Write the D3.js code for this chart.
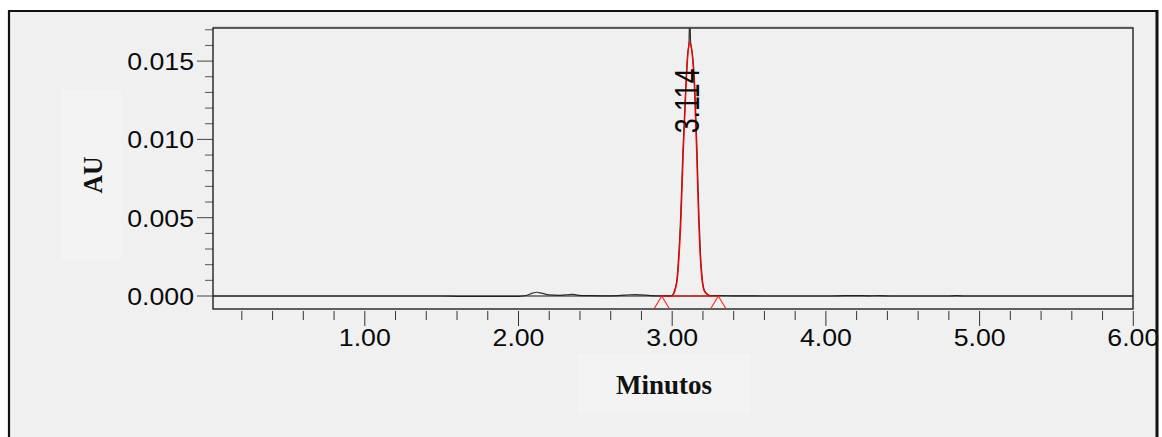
<!DOCTYPE html>
<html>
<head>
<meta charset="utf-8">
<script src="https://cdn.jsdelivr.net/npm/d3@7"></script>
<style>
  html, body { margin: 0; padding: 0; background: #ffffff; }
  svg { display: block; }
</style>
</head>
<body>
<svg id="chart" width="1162" height="437"></svg>
<script>
// ---------- data ----------
const signalTime = [0.01, 0.5, 1.0, 1.5, 1.6, 1.8, 2.0, 2.05, 2.09, 2.12, 2.15, 2.2, 2.27, 2.32, 2.35, 2.38, 2.45, 2.55, 2.65, 2.72, 2.76, 2.8, 2.86, 2.93,
  2.994, 3.009, 3.022, 3.030, 3.043, 3.054, 3.069, 3.088, 3.101, 3.109, 3.1145, 3.120, 3.131, 3.147, 3.162, 3.175, 3.184, 3.197, 3.208, 3.223, 3.249,
  3.3, 3.4, 3.6, 4.0, 4.12, 4.2, 4.28, 4.35, 4.42, 4.8, 4.85, 4.9, 5.5, 6.0];
const signalAU = [0, 0, 0, 0, -0.00002, -0.00003, -0.00002, 0.00003, 0.00018, 0.00024, 0.00018, 0.00007, 0.00004, 0.00008, 0.00011, 0.00006, 0.00002, 0.00001, 0.00003, 0.00008, 0.00009, 0.00007, 0.00003, 0.00001,
  0.00001, 0.00017, 0.0006, 0.00102, 0.00273, 0.00485, 0.00913, 0.01337, 0.01552, 0.01615, 0.0180, 0.0161, 0.01552, 0.01337, 0.00913, 0.00485, 0.00273, 0.00102, 0.0004, 0.00017, 0.00002,
  0.00002, 0.00001, 0, 0, 0.00002, 0.00003, 0.00001, 0.00002, 0, 0, 0.00002, 0, 0, 0];

const peakTime = [2.997, 3.012, 3.025, 3.033, 3.046, 3.057, 3.072, 3.090, 3.103, 3.110, 3.116, 3.122, 3.129, 3.144, 3.159, 3.172, 3.181, 3.194, 3.205, 3.220, 3.246];
const peakAU   = [0, 0.00017, 0.0006, 0.00102, 0.00273, 0.00485, 0.00913, 0.01337, 0.01552, 0.01610, 0.01624, 0.01605, 0.01552, 0.01337, 0.00913, 0.00485, 0.00273, 0.00102, 0.0004, 0.00017, 0];

const peakRT = 3.114;
const peakLabel = "3.114";
const integrationMarks = [2.932, 3.300];

const xMajorTicks = [1, 2, 3, 4, 5, 6];
const xTickLabels = ["1.00", "2.00", "3.00", "4.00", "5.00", "6.00"];
const yMajorTicks = [0, 0.005, 0.010, 0.015];
const yTickLabels = ["0.000", "0.005", "0.010", "0.015"];

const xTitle = "Minutos";
const yTitle = "AU";

// ---------- layout ----------
const svg = d3.select("#chart");
const L = 213, R = 1133, T = 28, B = 309;
const x = d3.scaleLinear().domain([0, 6]).range([211.1, 1133.3]);
const y = d3.scaleLinear().domain([0, 0.015]).range([296, 61.1]);
const bg = "#f0f0f0";

// outer frame
svg.append("rect").attr("x", 9).attr("y", 11).attr("width", 1148).attr("height", 440)
  .attr("fill", bg).attr("stroke", "none");

// title boxes
svg.append("rect").attr("x", 62).attr("y", 90).attr("width", 59).attr("height", 170).attr("fill", "#f3f3f3");
svg.append("rect").attr("x", 578).attr("y", 354).attr("width", 172).attr("height", 59).attr("fill", "#f3f3f3");

// clip
svg.append("clipPath").attr("id", "plotclip").append("rect")
  .attr("x", L).attr("y", T).attr("width", R - L).attr("height", B - T);

// y ticks
const yMinor = d3.range(1, 18).map(d => d * 0.001).filter(v => !yMajorTicks.some(m => Math.abs(m - v) < 1e-9));
const gy = svg.append("g");
gy.selectAll("line.minor").data(yMinor).join("line")
  .attr("x1", L - 8).attr("x2", L).attr("y1", d => y(d)).attr("y2", d => y(d))
  .attr("stroke", "#555").attr("stroke-width", 1);
gy.selectAll("line.major").data(yMajorTicks).join("line")
  .attr("x1", L - 16).attr("x2", L).attr("y1", d => y(d)).attr("y2", d => y(d))
  .attr("stroke", "#444").attr("stroke-width", 1);
gy.selectAll("text").data(yMajorTicks).join("text")
  .attr("transform", d => `translate(194,${y(d) + 8.8}) scale(1.16,1)`)
  .attr("text-anchor", "end")
  .attr("font-family", "'Liberation Sans', Arial, sans-serif")
  .attr("font-size", 23).attr("fill", "#0a0a0a")
  .text((d, i) => yTickLabels[i]);

// x ticks
const xMinor = d3.range(1, 30).map(d => d * 0.2).filter(v => !xMajorTicks.some(m => Math.abs(m - v) < 1e-9));
const gx = svg.append("g");
gx.selectAll("line.minor").data(xMinor).join("line")
  .attr("x1", d => x(d)).attr("x2", d => x(d)).attr("y1", B + 2).attr("y2", B + 11)
  .attr("stroke", "#333").attr("stroke-width", 1);
gx.selectAll("line.major").data(xMajorTicks).join("line")
  .attr("x1", d => x(d)).attr("x2", d => x(d)).attr("y1", B + 2).attr("y2", B + 17)
  .attr("stroke", "#333").attr("stroke-width", 1);
gx.selectAll("text").data(xMajorTicks).join("text")
  .attr("transform", d => `translate(${x(d)},346) scale(1.16,1)`)
  .attr("text-anchor", "middle")
  .attr("font-family", "'Liberation Sans', Arial, sans-serif")
  .attr("font-size", 23).attr("fill", "#0a0a0a")
  .text((d, i) => xTickLabels[i]);

// plot box
svg.append("line").attr("x1", L).attr("x2", R).attr("y1", T - 1).attr("y2", T - 1).attr("stroke", "#bbb");
svg.append("rect").attr("x", L).attr("y", T).attr("width", R - L).attr("height", B - T)
  .attr("fill", "none").attr("stroke", "#111").attr("stroke-width", 1.3);

const plot = svg.append("g").attr("clip-path", "url(#plotclip)");

// signal
const sig = signalTime.map((t, i) => [t, signalAU[i]]);
const line = d3.line().x(d => x(d[0])).y(d => y(d[1])).curve(d3.curveMonotoneX);
plot.append("path").attr("d", line(sig)).attr("fill", "none").attr("stroke", "#333").attr("stroke-width", 1.2);
// zero line
plot.append("line").attr("x1", L).attr("x2", R).attr("y1", y(0)).attr("y2", y(0)).attr("stroke", "#111").attr("stroke-width", 1);

// red integrated peak
const pk = peakTime.map((t, i) => [t, peakAU[i]]);
plot.append("path").attr("d", line(pk)).attr("fill", "none").attr("stroke", "#ff0000").attr("stroke-width", 1.3);
plot.append("line").attr("x1", x(integrationMarks[0])).attr("x2", x(integrationMarks[1]))
  .attr("y1", y(0)).attr("y2", y(0)).attr("stroke", "#ff0000").attr("stroke-width", 1.2);
plot.selectAll("polyline.mark").data(integrationMarks).join("polyline")
  .attr("points", d => `${x(d) - 7.5},${y(0) + 12.5} ${x(d)},${y(0)} ${x(d) + 7.5},${y(0) + 12.5}`)
  .attr("fill", "none").attr("stroke", "#ff2020").attr("stroke-width", 1.1);

// peak label
svg.append("text")
  .attr("transform", `translate(${x(peakRT) + 9.3},133.3) scale(1.31,1) rotate(-90)`)
  .attr("text-anchor", "start")
  .attr("font-family", "'Liberation Sans', Arial, sans-serif")
  .attr("font-size", 26.7).attr("fill", "#0a0a0a")
  .text(peakLabel);

// axis titles
svg.append("text")
  .attr("transform", "translate(101.5,175) scale(1.08,1) rotate(-90)")
  .attr("text-anchor", "middle")
  .attr("font-family", "'Liberation Serif', 'Times New Roman', serif")
  .attr("font-weight", "bold").attr("font-size", 25.6).attr("fill", "#111")
  .text(yTitle);
svg.append("text")
  .attr("x", 664).attr("y", 393.5)
  .attr("text-anchor", "middle")
  .attr("font-family", "'Liberation Serif', 'Times New Roman', serif")
  .attr("font-weight", "bold").attr("font-size", 27).attr("fill", "#111")
  .text(xTitle);

// frame borders on top
svg.append("rect").attr("x", 1158.5).attr("y", 0).attr("width", 10).attr("height", 437).attr("fill", "#ffffff");
svg.append("line").attr("x1", 9).attr("x2", 9).attr("y1", 10).attr("y2", 437).attr("stroke", "#111").attr("stroke-width", 2.2);
svg.append("line").attr("x1", 8).attr("x2", 1158).attr("y1", 11).attr("y2", 11).attr("stroke", "#111").attr("stroke-width", 2);
svg.append("line").attr("x1", 1157).attr("x2", 1157).attr("y1", 10).attr("y2", 437).attr("stroke", "#111").attr("stroke-width", 3);
</script>
</body>
</html>
